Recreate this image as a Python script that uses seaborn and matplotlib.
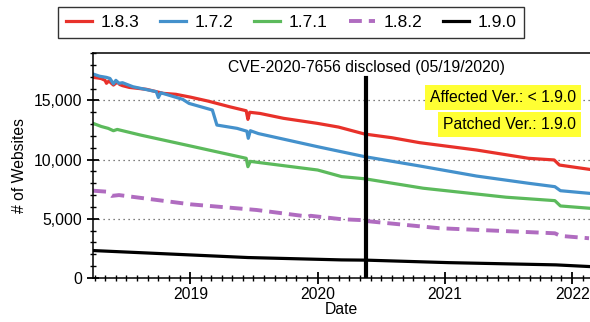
import numpy as np
import pandas as pd
import matplotlib
matplotlib.use('Agg')
import matplotlib.pyplot as plt
import matplotlib.dates as mdates
import matplotlib.ticker as mticker
import seaborn as sns

# ------ values (dates, # of websites)
red_dates = ['2018-03-28', '2018-04-10', '2018-04-20', '2018-05-01', '2018-05-05', '2018-05-12',
             '2018-05-25', '2018-06-05', '2018-06-12', '2018-06-20', '2018-07-10', '2018-08-28',
             '2018-10-15', '2018-11-20', '2019-01-01', '2019-02-20', '2019-04-23', '2019-06-10',
             '2019-06-15', '2019-06-20', '2019-07-20', '2019-09-25', '2020-01-01', '2020-03-01',
             '2020-05-15', '2020-08-01', '2020-10-20', '2021-04-01', '2021-08-28', '2021-11-10',
             '2021-11-25', '2022-02-18']
red_vals = [16950, 16900, 16850, 16700, 16450, 16650,
            16300, 16550, 16350, 16250, 16100, 15940,
            15600, 15520, 15280, 14950, 14470, 14130,
            13400, 14000, 13900, 13490, 13060, 12750,
            12160, 11850, 11430, 10810, 10110, 9970,
            9540, 9180]

blue_dates = ['2018-03-28', '2018-04-15', '2018-05-05', '2018-05-15', '2018-05-25', '2018-06-01',
              '2018-06-10', '2018-06-20', '2018-07-20', '2018-09-25', '2018-10-01', '2018-10-08',
              '2018-12-10', '2018-12-28', '2019-03-05', '2019-03-18', '2019-05-15', '2019-06-12',
              '2019-06-16', '2019-06-22', '2019-07-15', '2020-01-01', '2020-05-15', '2020-10-20',
              '2021-04-01', '2021-08-28', '2021-11-12', '2021-11-28', '2022-02-18']
blue_vals = [17230, 17050, 16950, 16860, 16400, 16700,
             16450, 16500, 16160, 15740, 15250, 15650,
             15090, 14750, 14190, 12920, 12640, 12400,
             11800, 12440, 12200, 11090, 10250, 9460,
             8610, 8000, 7710, 7370, 7150]

green_dates = ['2018-03-28', '2018-04-20', '2018-05-10', '2018-05-25', '2018-06-05', '2018-08-10',
               '2019-01-01', '2019-06-10', '2019-06-15', '2019-06-22', '2019-07-20', '2020-01-01',
               '2020-03-10', '2020-05-15', '2020-10-30', '2021-06-25', '2021-11-12', '2021-11-28',
               '2022-02-18']
green_vals = [13060, 12800, 12640, 12440, 12550, 12080,
              11150, 10110, 9400, 9850, 9740, 9120,
              8560, 8380, 7580, 6820, 6530, 6080,
              5890]

purple_dates = ['2018-03-28', '2018-05-05', '2018-05-20', '2018-06-10', '2019-01-01', '2019-07-10',
                '2019-12-05', '2019-12-12', '2020-03-10', '2020-05-10', '2020-05-28', '2020-12-15',
                '2021-09-28', '2021-11-12', '2021-11-28', '2022-02-18']
purple_vals = [7370, 7290, 6930, 7000, 6220, 5740,
               5180, 5250, 4960, 4880, 4780, 4200,
               3830, 3770, 3550, 3350]

black_dates = ['2018-03-28', '2019-01-01', '2019-06-15', '2020-03-10', '2020-05-19',
               '2021-01-10', '2021-11-15', '2022-02-18']
black_vals = [2310, 1940, 1720, 1520, 1500, 1290, 1100, 960]

versions = ['1.8.3', '1.7.2', '1.7.1', '1.8.2', '1.9.0']
colors = ['#e8312a', '#4491cc', '#5cba5c', '#b06cc0', '#000000']

series = [(red_dates, red_vals), (blue_dates, blue_vals), (green_dates, green_vals),
          (purple_dates, purple_vals), (black_dates, black_vals)]

plt.rcParams['font.family'] = ['Liberation Sans', 'DejaVu Sans']

fig = plt.figure(figsize=(5.9, 3.22), dpi=100)
ax = fig.add_axes([0.158, 0.137, 0.8415, 0.698])

for ver, col, (d, v) in zip(versions, colors, series):
    df = pd.DataFrame({'date': pd.to_datetime(d), 'n': v})
    ls = '--' if ver == '1.8.2' else '-'
    lw = 2.8 if ver == '1.8.2' else 2.3
    sns.lineplot(data=df, x='date', y='n', color=col, lw=lw, ax=ax, label=ver,
                 linestyle=ls, legend=False)
    if ver == '1.8.2':
        ax.lines[-1].set_dashes((3.3, 1.8))

disclosed = pd.Timestamp('2020-05-19')
ax.axvline(disclosed, ymin=0, ymax=0.888, color='black', lw=3)
ax.text(disclosed, 17800, 'CVE-2020-7656 disclosed (05/19/2020)', ha='center', va='center',
        fontsize=11.3)

ax.text(0.972, 0.804, 'Affected Ver.: < 1.9.0', transform=ax.transAxes, ha='right', va='center',
        fontsize=11.3, bbox=dict(facecolor='#ffff33', edgecolor='none', pad=3.5))
ax.text(0.972, 0.682, 'Patched Ver.: 1.9.0', transform=ax.transAxes, ha='right', va='center',
        fontsize=11.3, bbox=dict(facecolor='#ffff33', edgecolor='none', pad=3.5))

ax.set_xlim(pd.Timestamp('2018-03-28'), pd.Timestamp('2022-02-20'))
ax.set_ylim(0, 19000)

ax.yaxis.set_major_locator(mticker.MultipleLocator(5000))
ax.yaxis.set_minor_locator(mticker.MultipleLocator(1000))
ax.yaxis.set_major_formatter(mticker.FuncFormatter(lambda x, p: '{:,.0f}'.format(x)))
ax.xaxis.set_major_locator(mdates.YearLocator())
ax.xaxis.set_minor_locator(mdates.MonthLocator())
ax.xaxis.set_major_formatter(mdates.DateFormatter('%Y'))

ax.grid(axis='y', which='major', linestyle=(0, (1, 3)), color='#555555', lw=0.9)
ax.tick_params(axis='both', which='major', direction='inout', length=9, width=1.3, labelsize=11.3)
ax.tick_params(axis='both', which='minor', direction='inout', length=5, width=1)
ax.tick_params(axis='x', which='major', pad=2)

for s in ['left', 'top', 'bottom']:
    ax.spines[s].set_linewidth(1.1)
ax.spines['right'].set_visible(False)

ax.set_xlabel('Date', fontsize=11.3, labelpad=0)
ax.set_ylabel('# of Websites', fontsize=11.3, labelpad=5)

handles, labels = ax.get_legend_handles_labels()
leg = fig.legend(handles, labels, loc='upper left', bbox_to_anchor=(0.098, 0.978), ncol=5,
                 fontsize=12.5, frameon=True, fancybox=False, edgecolor='black',
                 handlelength=1.5, handletextpad=0.5, columnspacing=1.2, borderpad=0.45,
                 borderaxespad=0)
leg.get_frame().set_linewidth(1)

fig.savefig('out.png', dpi=100)
